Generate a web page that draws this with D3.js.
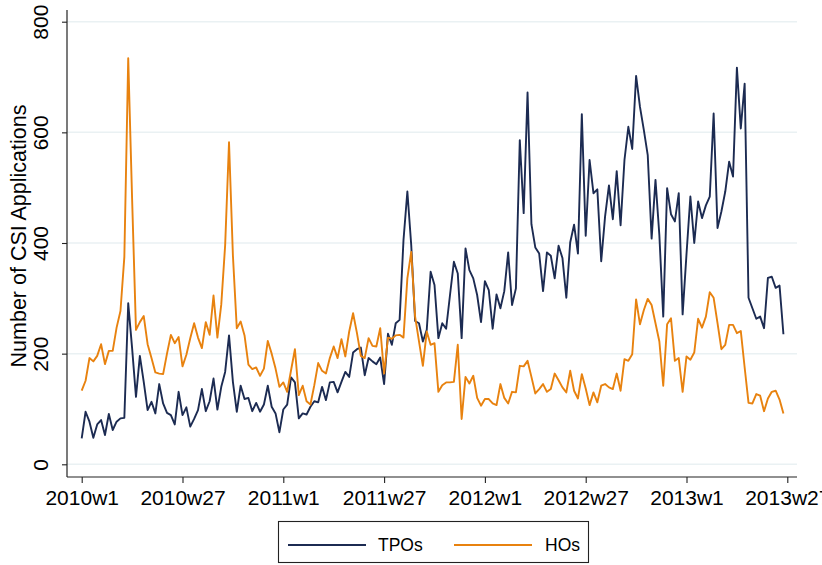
<!DOCTYPE html>
<html>
<head>
<meta charset="utf-8">
<script src="https://cdn.jsdelivr.net/npm/d3@7"></script>
<style>
  html, body { margin: 0; padding: 0; background: #fff; }
  svg { display: block; }
  text { font-family: "Liberation Sans", Arial, Helvetica, sans-serif; fill: #000; }
</style>
</head>
<body>
<svg id="chart" width="822" height="565"></svg>
<script>
// ---- data (weekly, 2010w1 .. 2013w26) ----
const startYear = 2010;
const tpos = [47,95,77,48,72,80,53,91,62,77,83,84,
  291,210,122,196,149,98,113,92,145,110,93,
  89,72,131,89,103,68,82,98,136,96,114,155,99,140,167,233,149,95,142,118,120,96,111,95,
  108,142,104,92,58,99,108,157,148,83,92,90,104,114,112,140,116,148,149,130,149,167,158,
  202,208,211,161,192,186,181,193,145,236,216,255,261,405,493,396,259,255,222,243,348,324,228,
  255,245,306,366,345,228,390,351,336,306,257,331,315,245,307,282,313,383,288,318,586,454,672,
  434,392,381,313,383,377,336,395,373,301,401,433,381,633,413,550,490,497,367,448,504,443,530,432,
  550,610,570,702,646,604,559,408,514,414,267,499,452,439,490,271,380,484,400,475,445,468,484,
  634,427,457,493,547,520,717,607,688,301,282,263,267,246,337,339,319,323,235];
const hos = [133,151,192,186,196,217,181,205,205,247,277,375,
  734,480,243,257,268,217,192,166,164,163,200,
  234,219,230,177,198,228,255,229,210,257,234,305,229,289,396,582,378,246,258,233,180,172,175,160,
  173,223,200,173,140,148,131,170,208,125,142,114,108,143,183,169,164,192,213,192,226,195,240,
  273,237,196,192,228,214,213,246,164,229,227,233,234,229,336,384,267,222,178,240,216,219,131,
  143,148,148,149,216,82,158,146,160,120,106,118,118,110,107,145,120,110,131,130,178,177,187,
  158,128,136,145,131,136,164,152,139,130,169,133,119,163,137,107,130,112,142,145,139,136,164,133,
  190,187,199,298,253,279,299,288,255,222,142,253,264,187,192,131,195,189,202,263,247,267,311,
  301,255,208,216,252,252,237,241,175,111,110,127,124,96,119,131,133,117,92];
const xTickWeeks = [0, 26, 52, 78, 104, 130, 156, 182];
const xTickLabels = ["2010w1","2010w27","2011w1","2011w27","2012w1","2012w27","2013w1","2013w27"];
const yTicks = [0, 200, 400, 600, 800];
const seriesNames = ["TPOs", "HOs"];
const seriesColors = ["#1c2b52", "#e8820f"];

// ---- layout ----
const svg = d3.select("#chart");
const axisLeft = 67, axisRight = 797, axisTop = 10, axisBottom = 477;
const x = d3.scaleLinear().domain([0, 182]).range([81.7, 787.3]);
const y = d3.scaleLinear().domain([0, 800]).range([464.3, 21.7]);

// gridlines
svg.append("g").selectAll("line").data(yTicks).join("line")
  .attr("x1", axisLeft).attr("x2", axisRight)
  .attr("y1", d => y(d)).attr("y2", d => y(d))
  .attr("stroke", "#eaf1f3").attr("stroke-width", 1.5);

// lines
const series = [tpos, hos];
const line = d3.line().x((d, i) => x(i)).y(d => y(d));
series.forEach((s, k) => {
  svg.append("path").datum(s)
    .attr("fill", "none").attr("stroke", seriesColors[k])
    .attr("stroke-width", 1.9).attr("stroke-linejoin", "round")
    .attr("d", line);
});

// y axis
const yAxisG = svg.append("g").attr("transform", `translate(${axisLeft},0)`);
yAxisG.call(d3.axisLeft(y).tickValues(yTicks).tickSize(5).tickSizeOuter(0).tickFormat(d3.format("d")));
yAxisG.select(".domain").remove();
yAxisG.append("line").attr("x1", 0).attr("x2", 0).attr("y1", axisTop).attr("y2", axisBottom)
  .attr("stroke", "#222").attr("stroke-width", 1.2);
yAxisG.selectAll(".tick line").attr("stroke", "#222").attr("stroke-width", 1.1);
yAxisG.selectAll(".tick text")
  .attr("x", null).attr("dy", null)
  .attr("transform", "translate(-19,0) rotate(-90)")
  .attr("text-anchor", "middle")
  .style("font-size", "21px").style("font-family", "Liberation Sans, Arial, sans-serif")
  .attr("fill", "#000");

// x axis
const xAxisG = svg.append("g").attr("transform", `translate(0,${axisBottom})`);
xAxisG.call(d3.axisBottom(x).tickValues(xTickWeeks).tickSize(6).tickSizeOuter(0)
  .tickFormat((d, i) => xTickLabels[i]));
xAxisG.select(".domain").remove();
xAxisG.append("line").attr("x1", axisLeft).attr("x2", axisRight).attr("y1", 0).attr("y2", 0)
  .attr("stroke", "#222").attr("stroke-width", 1.2);
xAxisG.selectAll(".tick line").attr("stroke", "#222").attr("stroke-width", 1.1);
xAxisG.selectAll(".tick text")
  .attr("y", 28).attr("dy", null)
  .style("font-size", "21px").style("font-family", "Liberation Sans, Arial, sans-serif")
  .attr("fill", "#000");

// y title
svg.append("text")
  .attr("transform", `translate(26,236) rotate(-90)`)
  .attr("text-anchor", "middle")
  .style("font-size", "21.5px")
  .text("Number of CSI Applications");

// legend
const lg = svg.append("g");
lg.append("rect").attr("x", 278.5).attr("y", 521.5).attr("width", 310).attr("height", 41)
  .attr("fill", "#fff").attr("stroke", "#222").attr("stroke-width", 1.1);
const legItems = [
  {x1: 288, x2: 366, tx: 378},
  {x1: 454, x2: 532, tx: 545}
];
legItems.forEach((it, k) => {
  lg.append("line").attr("x1", it.x1).attr("x2", it.x2).attr("y1", 545).attr("y2", 545)
    .attr("stroke", seriesColors[k]).attr("stroke-width", 1.9);
  lg.append("text").attr("x", it.tx).attr("y", 551).style("font-size", "17.5px").text(seriesNames[k]);
});
</script>
</body>
</html>
